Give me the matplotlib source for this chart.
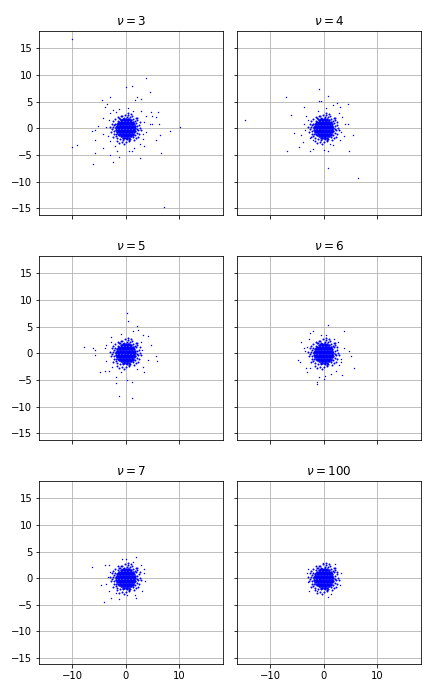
import matplotlib
matplotlib.use("Agg")
import matplotlib.pyplot as plt

# degrees of freedom for each panel
nus = [3, 4, 5, 6, 7, 100]

# dense central blob (estimated, shared look in every panel): (row y, x values)
core_rows = [
    (1.75, [-0.55, -0.25, 0.05, 0.35, 0.6]),
    (1.5, [-0.95, -0.65, -0.38, -0.1, 0.18, 0.45, 0.72, 1.0]),
    (1.25, [-1.2, -0.92, -0.63, -0.35, -0.07, 0.22, 0.5, 0.78, 1.05, 1.3]),
    (1.0, [-1.42, -1.13, -0.85, -0.57, -0.28, 0.0, 0.28, 0.57, 0.85, 1.12, 1.4]),
    (0.75, [-1.6, -1.3, -1.02, -0.73, -0.45, -0.17, 0.12, 0.4, 0.68, 0.96, 1.24, 1.52]),
    (0.5, [-1.68, -1.4, -1.12, -0.84, -0.56, -0.28, 0.0, 0.28, 0.56, 0.84, 1.12, 1.4, 1.66]),
    (0.25, [-1.75, -1.47, -1.19, -0.91, -0.63, -0.35, -0.07, 0.21, 0.49, 0.77, 1.05, 1.33, 1.6]),
    (0.0, [-1.8, -1.52, -1.24, -0.96, -0.68, -0.4, -0.12, 0.16, 0.44, 0.72, 1.0, 1.28, 1.56, 1.8]),
    (-0.25, [-1.74, -1.46, -1.18, -0.9, -0.62, -0.34, -0.06, 0.22, 0.5, 0.78, 1.06, 1.34, 1.62]),
    (-0.5, [-1.66, -1.38, -1.1, -0.82, -0.54, -0.26, 0.02, 0.3, 0.58, 0.86, 1.14, 1.42, 1.68]),
    (-0.75, [-1.58, -1.28, -1.0, -0.72, -0.44, -0.16, 0.13, 0.42, 0.7, 0.98, 1.26, 1.54]),
    (-1.0, [-1.4, -1.12, -0.84, -0.56, -0.27, 0.01, 0.3, 0.58, 0.86, 1.14, 1.41]),
    (-1.25, [-1.18, -0.9, -0.62, -0.34, -0.05, 0.24, 0.52, 0.8, 1.07, 1.32]),
    (-1.5, [-0.93, -0.64, -0.36, -0.08, 0.2, 0.47, 0.74, 1.0]),
    (-1.75, [-0.58, -0.27, 0.03, 0.33, 0.62]),
]

# fuzzy fringe around the blob (estimated)
fringe = [
    (2.05, 0.4), (2.35, -0.3), (2.15, -0.9), (1.95, 1.1), (2.55, 0.7), (2.2, 1.5),
    (1.45, 1.75), (0.9, 2.05), (0.3, 2.1), (-0.4, 2.0), (-1.0, 1.85), (-1.5, 1.45),
    (-1.95, 0.9), (-2.3, 0.3), (-2.1, -0.5), (-2.5, -0.2), (-2.2, -1.1), (-1.9, -1.5),
    (-1.6, -1.75), (-1.0, -2.0), (-0.5, -2.1), (0.2, -2.05), (0.8, -1.95), (1.3, -1.6),
    (1.8, -1.3), (2.4, -1.6), (2.7, 0.1), (2.0, 2.0), (1.2, 2.3), (0.5, 2.5),
    (-0.2, 2.6), (-0.9, 2.35), (-1.4, 2.2), (-2.0, 1.8), (-2.6, 0.9), (-2.8, -0.6),
    (-2.4, -1.7), (-1.7, -2.3), (-0.7, -2.6), (0.1, -2.55), (0.7, -2.4), (1.6, -2.2),
    (2.1, 1.95), (2.9, -0.3), (2.6, 1.2), (-2.95, 0.2), (-0.3, -2.9), (1.0, 2.75),
    (-1.2, -2.7), (0.4, 2.9), (2.2, -0.1), (-2.2, 0.6), (1.7, 1.4), (-1.8, -1.0),
    (0.6, -2.2), (-0.6, 2.25), (2.45, -1.0), (-2.45, 1.3), (1.9, -1.8), (-1.3, 1.9),
]

# scattered tail points of each panel
tail_nu3 = [
    (3.9, 9.4), (1.1, 7.9), (0.1, 7.7), (4.6, 6.75), (2.2, 5.8), (2.9, 5.5), (1.8, 5.4),
    (-2.9, 5.8), (-4.4, 5.3), (-3.5, 4.5), (-3.8, 4.1), (6.1, 3.0), (4.8, 3.0), (5.6, 2.1),
    (5.0, 2.25), (3.9, 2.4), (-4.2, 1.9), (6.3, 0.75), (4.5, 0.75), (4.9, 0.75),
    (10.25, 0.25), (8.4, -0.4), (-5.1, 0.5), (-6.4, -0.4), (-5.7, -0.25), (-4.2, -1.1),
    (-5.7, -2.1), (6.5, -1.3), (5.6, -2.25), (3.5, -3.3), (-4.2, -3.75), (-1.6, -4.2),
    (0.7, -4.3), (1.1, -4.3), (6.7, -4.7), (-5.7, -4.7), (-1.2, -5.4), (2.75, -5.6),
    (-2.3, -6.4), (-6.1, -6.75), (-3.0, -5.0), (-9.1, -3.2), (-10.0, -3.5),
    (-10.0, 16.7), (7.1, -14.75),
    (-3.0, 2.9), (-2.4, 3.4), (2.9, 3.2), (3.4, 1.2), (3.2, -1.9), (2.6, -3.0),
    (-2.9, -2.4), (-3.4, -1.5), (-3.7, 0.3), (-2.0, -3.3), (1.5, -3.6), (0.5, 3.9),
    (-1.2, 3.7), (3.8, -0.6), (-1.8, 3.0), (1.4, 3.3), (-3.1, 1.6), (3.3, -1.0),
]
tail_nu4 = [
    (-14.7, 1.5), (-7.1, 5.8), (-0.9, 7.45), (0.9, 6.0), (-0.9, 5.2), (-0.4, 5.2),
    (-3.7, 4.1), (-6.1, 2.6), (4.65, 4.65), (2.6, 4.8), (1.7, 4.3), (3.0, 4.1),
    (0.5, 3.8), (-3.3, 2.4), (-5.6, -0.9), (-4.2, -1.3), (-3.7, 0.8), (-3.4, -0.25),
    (3.5, 2.2), (4.0, 0.75), (4.5, 0.75), (5.6, -1.3), (3.85, -1.5), (3.1, -2.2),
    (-4.7, -3.5), (-6.9, -4.3), (-2.6, -4.3), (-1.9, -3.8), (0.1, -4.0), (0.9, -4.2),
    (1.7, -3.2), (4.8, -4.3), (0.9, -7.45), (6.5, -9.3), (-3.9, -2.6), (-2.0, -2.2),
    (-2.9, 1.5), (2.8, 2.9), (3.2, -0.6), (-2.6, -1.8), (1.2, -3.0), (-1.1, 3.2),
]
tail_nu5 = [
    (0.3, 7.6), (0.5, 6.1), (2.2, 5.1), (1.4, 4.1), (2.4, 4.3), (3.3, 3.5), (4.1, 3.3),
    (-0.9, 3.6), (-2.7, 3.1), (2.8, 2.1), (4.8, 1.6), (-7.9, 1.25), (-6.1, 0.9),
    (-5.7, 0.7), (-3.9, 0.9), (-3.6, 1.6), (-5.7, -0.25), (5.75, -0.45), (5.9, -1.5),
    (4.1, -1.2), (-3.6, -1.4), (3.3, -2.5), (-4.9, -3.6), (-3.8, -3.4), (-3.1, -3.4),
    (-1.9, -4.4), (0.3, -5.1), (1.1, -5.3), (-1.75, -5.6), (3.5, -3.6), (-1.2, -8.1),
    (1.1, -8.3), (-0.9, -3.6), (-2.8, 2.2), (3.0, 0.6), (-2.6, -2.5), (2.2, -2.9),
]
tail_nu6 = [
    (0.75, 5.4), (-1.9, 4.2), (-2.6, 3.85), (3.9, 4.2), (-0.4, 3.5), (0.5, 3.5),
    (-4.3, 2.05), (2.7, 2.2), (2.0, 2.7), (-3.7, 0.9), (-3.5, 0.5), (-3.1, 1.25),
    (4.85, 0.5), (3.9, 0.9), (5.2, -0.6), (-4.85, -1.35), (-4.5, -1.7), (5.7, -2.7),
    (-3.3, -2.7), (-3.2, -3.6), (2.4, -3.4), (3.5, -4.0), (1.3, -3.8), (0.25, -4.2),
    (-0.9, -4.5), (-1.3, -5.3), (-1.3, -5.8), (0.0, -4.9), (3.35, -1.1), (3.35, -1.7),
    (-2.5, -2.7), (-2.7, 2.6), (2.9, -2.2),
]
tail_nu7 = [
    (2.0, 4.05), (0.1, 3.6), (-0.6, 3.6), (-6.4, 2.05), (-3.8, 2.4), (-3.1, 2.4),
    (3.5, 1.8), (2.9, 2.4), (3.5, 0.9), (3.7, -0.45), (-4.7, -1.2), (-3.6, -1.0),
    (-3.2, -2.5), (3.1, -2.5), (2.0, -3.8), (1.8, -3.25), (-2.7, -3.8), (-1.2, -4.0),
    (-4.0, -4.55), (-1.9, -2.7), (0.3, -3.25), (-2.9, 1.2), (1.3, 3.0), (-3.3, 0.2),
]
tail_nu100 = [
    (2.1, 2.7), (-0.1, 2.85), (-2.9, 1.8), (-3.1, 0.9), (3.35, 0.9), (3.0, -1.35),
    (-2.7, -2.5), (0.75, -3.6), (1.3, -3.05), (-1.3, -2.5), (-2.85, -0.8),
]

tails = [tail_nu3, tail_nu4, tail_nu5, tail_nu6, tail_nu7, tail_nu100]

core_x = [x for _, xs in core_rows for x in xs]
core_y = [y for y, xs in core_rows for _ in xs]
fringe_x = [p[0] for p in fringe]
fringe_y = [p[1] for p in fringe]

fig, axes = plt.subplots(3, 2, sharex=True, sharey=True, figsize=(6, 698 / 72), dpi=72)
fig.subplots_adjust(left=0.091, right=0.975, top=0.955, bottom=0.048,
                    wspace=0.076, hspace=0.227)

for ax, nu, tail in zip(axes.flat, nus, tails):
    ax.scatter(core_x, core_y, s=6.0, c="blue", marker="o", linewidths=0)
    ax.scatter(fringe_x, fringe_y, s=4.0, c="blue", marker="o", linewidths=0)
    ax.scatter([p[0] for p in tail], [p[1] for p in tail], s=2.0, c="blue",
               marker="o", linewidths=0)
    ax.set_title(r"$\nu = %d$" % nu)
    ax.grid(True)
    ax.set_axisbelow(True)

ax0 = axes[0, 0]
ax0.set_xlim(-16.2, 18.3)
ax0.set_ylim(-16.2, 18.2)
ax0.set_xticks([-10, 0, 10])
ax0.set_yticks([-15, -10, -5, 0, 5, 10, 15])

fig.savefig("out.png", dpi=72)
